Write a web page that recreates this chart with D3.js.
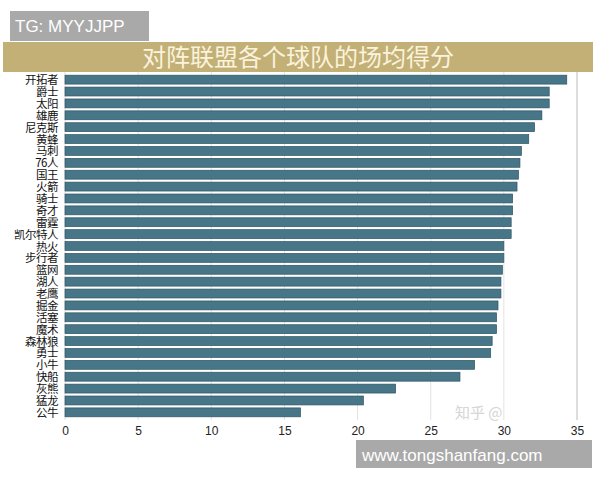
<!DOCTYPE html><html><head><meta charset="utf-8"><script src="https://cdn.jsdelivr.net/npm/d3@7"></script>
<style>body{margin:0;background:#fff}</style></head><body><svg id="c" width="600" height="480"></svg>
<script>
const teams=["开拓者","爵士","太阳","雄鹿","尼克斯","黄蜂","马刺","76人","国王","火箭","骑士","奇才","雷霆","凯尔特人","热火","步行者","篮网","湖人","老鹰","掘金","活塞","魔术","森林狼","勇士","小牛","快船","灰熊","猛龙","公牛"];
const scores=[34.3,33.1,33.1,32.6,32.1,31.7,31.2,31.1,31.0,30.9,30.6,30.6,30.5,30.5,30.0,30.0,29.9,29.8,29.8,29.6,29.5,29.5,29.2,29.1,28.0,27.0,22.6,20.4,16.1];
const ticks=[0,5,10,15,20,25,30,35];
const title="对阵联盟各个球队的场均得分";
const svg=d3.select("#c");
const font="'Noto Sans CJK SC',sans-serif";
svg.append("rect").attr("x",10).attr("y",11).attr("width",139).attr("height",30).attr("fill","#a9a9a9");
svg.append("text").attr("x",15).attr("y",32).attr("fill","#fff").attr("font-family","Liberation Sans,Arial").attr("font-size",17).text("TG: MYYJJPP");
svg.append("rect").attr("x",3).attr("y",42).attr("width",590).attr("height",30).attr("fill","#c2b076");
svg.append("text").attr("x",298).attr("y",66).attr("text-anchor","middle").attr("fill","#fbf3dc").attr("font-family",font).attr("font-size",24).text(title);
const x=d3.scaleLinear().domain([0,35]).range([65,577]);
const y=d3.scaleBand().domain(teams).range([74,418]).paddingInner(0.25).paddingOuter(0.1);
const g=svg.append("g");
g.selectAll("line.grid").data(ticks).join("line").attr("x1",d=>x(d)).attr("x2",d=>x(d)).attr("y1",72).attr("y2",420).attr("stroke",(d,i)=>i==ticks.length-1?"#bbb":"#e2e2e2").attr("stroke-width",1);
g.selectAll("rect.bar").data(scores).join("rect").attr("x",x(0)).attr("y",(d,i)=>y(teams[i])).attr("width",d=>x(d)-x(0)).attr("height",y.bandwidth()).attr("fill","#467687").attr("stroke","#2f5563").attr("stroke-width",0.7);
g.selectAll("text.lab").data(teams).join("text").attr("x",58).attr("y",d=>y(d)+y.bandwidth()/2+4.5).attr("text-anchor","end").attr("font-family",font).attr("font-size",11.5).attr("letter-spacing",-0.5).attr("fill","#111").text(d=>d);
const ax=svg.append("g").attr("transform","translate(0,422)").call(d3.axisBottom(x).tickValues(ticks).tickSize(0).tickPadding(4));
ax.select(".domain").remove();
ax.selectAll("text").attr("font-family","Liberation Sans,Arial").attr("font-size",12).attr("fill","#222");
svg.append("text").attr("x",455).attr("y",418).attr("font-family",font).attr("font-size",15).attr("fill","#ccc").attr("opacity",0.8).text("知乎 @");
svg.append("rect").attr("x",356).attr("y",440).attr("width",236).attr("height",28).attr("fill","#a9a9a9");
svg.append("text").attr("x",362).attr("y",461).attr("fill","#fff").attr("font-family","Liberation Sans,Arial").attr("font-size",17).text("www.tongshanfang.com");
</script></body></html>
